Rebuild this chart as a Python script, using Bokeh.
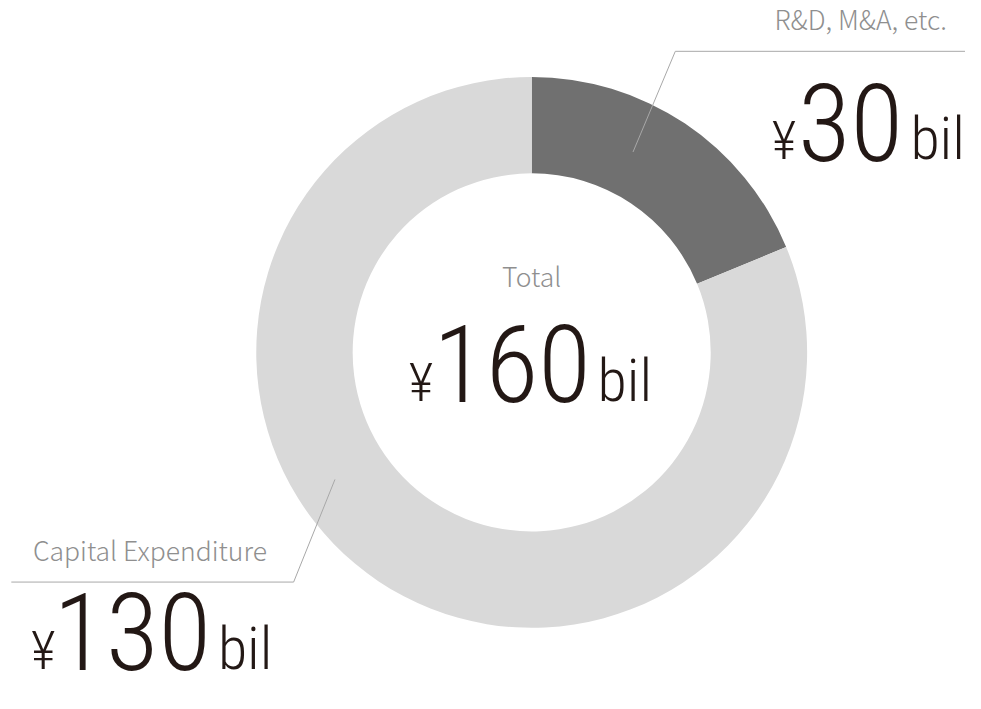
import numpy as np
from bokeh.plotting import figure
from bokeh.models import Range1d, ColumnDataSource
from bokeh.core.properties import value
from bokeh.embed import file_html
from bokeh.resources import INLINE

# ---- data ----
categories = ["Capital Expenditure", "R&D, M&A, etc."]
amounts = [130, 30]
slice_colors = ["#d9d9d9", "#707070"]
total_label = "Total"
unit_prefix = "¥"
unit_suffix = "bil"

W, H = 981, 709
FW, FH = 965, 693
SX, SY = FW / W, FH / H

def Y(sy):
    return H - sy

def Ytext(baseline, fs, k):
    # place a text so that its baseline lands at the reference baseline
    s = baseline * SY - k * fs
    return H - s / SY

p = figure(width=FW, height=FH, output_backend="svg", toolbar_location=None,
           x_range=Range1d(0, W), y_range=Range1d(0, H), min_border=0)
p.axis.visible = False
p.grid.visible = False
p.outline_line_color = None
p.background_fill_color = "white"

# donut: R&D slice starts at 12 o'clock and runs clockwise, then capex
total = sum(amounts)
order = [1, 0]
start = np.pi / 2
starts, ends, cols = [], [], []
for i in order:
    sweep = amounts[i] / total * 2 * np.pi
    starts.append(start)
    ends.append(start - sweep)
    cols.append(slice_colors[i])
    start -= sweep
src = ColumnDataSource(dict(x=[540] * 2, y=[Y(360)] * 2, s=starts, e=ends, c=cols))
p.annular_wedge(x="x", y="y", inner_radius=182, outer_radius=280, start_angle="s",
                end_angle="e", direction="clock", fill_color="c", line_color=None, source=src)

# leader lines
p.line([643, 686, 981], [Y(155), Y(52), Y(52)], line_color="#a8a8a8", line_width=1)
p.line([340, 298, 11], [Y(490), Y(595), Y(595)], line_color="#a8a8a8", line_width=1)

label_font = value("Noto Sans CJK JP Light")
big_font = value("Roboto Condensed Light")
gray = "#8f8f8f"
dark = "#231815"
K_LABEL = 0.49
K_BIG = 0.35
FS_LABEL = 26.5

def small(x, base, t, align):
    p.text(x=[x], y=[Ytext(base, FS_LABEL, K_LABEL)], text=[t], text_font=label_font,
           text_font_size=f"{FS_LABEL}px", text_color=gray, text_align=align,
           text_baseline="alphabetic")

def big(x_yen, x_num, x_bil, base, amount):
    for x, t, fs, al in [(x_yen, unit_prefix, 54, "right"), (x_num, str(amount), 108, "center"),
                         (x_bil, unit_suffix, 60, "left")]:
        p.text(x=[x], y=[Ytext(base, fs, K_BIG)], text=[t], text_font=big_font,
               text_font_size=f"{fs}px", text_color=dark, text_align=al,
               text_baseline="alphabetic")

small(962, 32, categories[1], "right")
small(33, 575, categories[0], "left")
small(540, 295, total_label, "center")

big(809, 864, 925, 163, amounts[1])
big(56, 134, 221, 684, amounts[0])
big(440, 520, 607, 410, total)

open("out.html", "w").write(file_html(p, INLINE))
